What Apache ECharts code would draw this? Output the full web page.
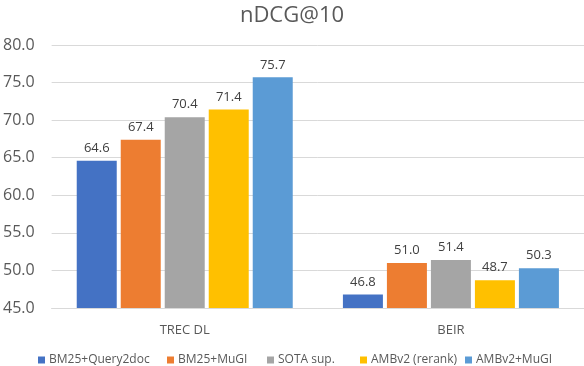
<!DOCTYPE html>
<html><head><meta charset="utf-8">
<script src="https://cdn.jsdelivr.net/npm/echarts@6/dist/echarts.min.js"></script>
<style>html,body{margin:0;padding:0;background:#fff}#c{width:584px;height:366px}</style>
</head><body><div id="c"></div>
<script>
const categories = ["TREC DL", "BEIR"];
const seriesNames = ["BM25+Query2doc", "BM25+MuGI", "SOTA sup.", "AMBv2 (rerank)", "AMBv2+MuGI"];
const bm25Query2doc = [64.6, 46.8];
const bm25MuGI = [67.4, 51.0];
const sotaSup = [70.4, 51.4];
const ambv2Rerank = [71.4, 48.7];
const ambv2MuGI = [75.7, 50.3];
const yTicks = {min: 45, max: 80, interval: 5};
const colors = ["#4472C4", "#ED7D31", "#A5A5A5", "#FFC000", "#5B9BD5"];
const legendLeft = [33, 162, 262, 355, 460];
const values = [bm25Query2doc, bm25MuGI, sotaSup, ambv2Rerank, ambv2MuGI];
const font = "'Open Sans', 'Noto Sans', sans-serif";
const chart = echarts.init(document.getElementById('c'));
chart.setOption({
  animation: false,
  textStyle: {fontFamily: font},
  title: {text: "nDCG@10", left: 'center', top: 0, textStyle: {fontFamily: font, fontSize: 22, fontWeight: 'normal', color: '#595959'}},
  grid: {left: 49, right: 0, top: 45, bottom: 58},
  legend: seriesNames.map((n, i) => ({left: legendLeft[i], top: 349, itemWidth: 7, itemHeight: 7, icon: 'rect',
    textStyle: {fontFamily: font, fontSize: 12, color: '#595959', padding: [0,0,0,-1]},
    data: [n]})),
  xAxis: {type: 'category', data: categories,
    axisLine: {lineStyle: {color: '#D9D9D9'}}, axisTick: {show: false},
    axisLabel: {color: '#595959', fontSize: 13, margin: 16, fontFamily: font}},
  yAxis: {type: 'value', min: yTicks.min, max: yTicks.max, interval: yTicks.interval,
    axisLine: {show: false}, axisTick: {show: false},
    splitLine: {lineStyle: {color: '#D9D9D9'}},
    axisLabel: {color: '#595959', fontSize: 16, margin: 17, fontFamily: font, formatter: v => v.toFixed(1)}},
  series: seriesNames.map((n, i) => ({
    name: n, type: 'bar', data: values[i], barWidth: 40, barGap: '10%',
    itemStyle: {color: colors[i]},
    label: {show: true, position: 'top', distance: 6, color: '#404040', fontSize: 13, fontFamily: font, formatter: p => p.value.toFixed(1)}
  }))
});
</script></body></html>
